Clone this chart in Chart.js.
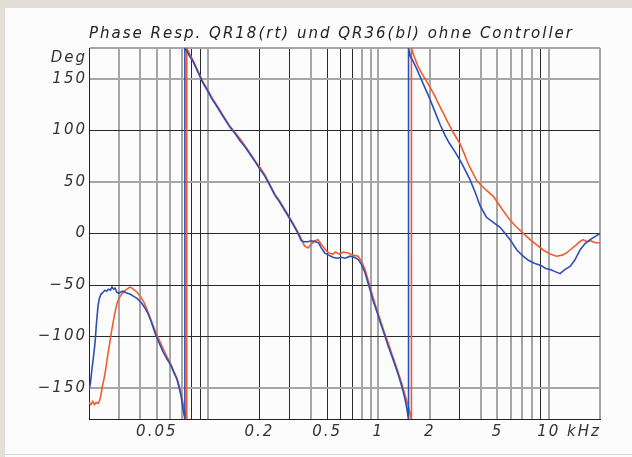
<!DOCTYPE html>
<html>
<head>
<meta charset="utf-8">
<script src="https://cdn.jsdelivr.net/npm/chart.js@4.4.1/dist/chart.umd.min.js"></script>
<style>
    body { margin: 0; background: #e2dfd6; }
    #panel {
        position: absolute; left: 5px; top: 8px; width: 627px; height: 449px;
        background: #fcfcfc;
    }
    #rule { position: absolute; left: 5px; top: 454px; width: 627px; height: 1px; background: #d4d4d4; }
    #phaseChart { position: absolute; left: 0; top: 0; }
</style>
</head>
<body>
<div id="panel"></div>
<div id="rule"></div>
<canvas id="phaseChart" width="632" height="457"></canvas>
<script>
// QR36 (blue) phase, Hz / degrees
const freqBlue = [20, 20.4, 20.8, 21.2, 21.7, 22.1, 22.6, 23.0, 23.5, 24.2, 24.8, 25.4, 26.0, 26.7, 27.3, 27.9, 28.5, 29.1, 29.8, 30.6,
    31.6, 32.6, 33.6, 35.0, 36.6, 38.3, 40.5, 42.5, 44.5, 46.5, 48.9, 51.5, 54.5, 57.5, 60.5, 63.0, 65.5, 67.5, 69.5, 71.0,
    72.3, 73.0, 73.2, 75, 78, 81.6, 87, 93.4, 99, 106, 113, 122, 134.6, 144, 154, 165, 178, 190, 202, 215,
    230, 247, 262, 278, 295, 315, 335, 352, 365, 385, 405, 428, 445, 462, 485, 510, 540, 572, 605, 640,
    680, 720, 760, 795, 835, 880, 930, 980, 1030, 1080, 1140, 1200, 1260, 1320, 1380, 1430, 1470, 1500, 1503, 1540,
    1600, 1687, 1780, 1880, 2011, 2150, 2300, 2450, 2600, 2800, 3017, 3200, 3454, 3700, 3950, 4300, 4700, 5183, 5550, 5932,
    6500, 7071, 7600, 8300, 9000, 9600, 10200, 10900, 11660, 12400, 13350, 14200, 15280, 16300, 17500, 18700, 20000];
const phaseBlue = [-152, -145, -132, -121, -106, -88, -70, -63, -59, -57, -55, -56, -54, -55, -52, -54, -53, -57, -58, -57,
    -56, -57, -58, -59, -61, -63, -67, -72, -78, -86, -97, -106, -115, -122, -128, -135, -141, -149, -158, -168,
    -176, -180, 180, 177, 172, 167, 157, 146, 139, 130, 123, 114, 103, 97, 90, 84, 76, 69, 62, 56,
    47, 37, 31, 24, 17, 9, 1, -7, -8, -8, -7, -8, -9, -14, -19, -21, -23, -24, -23, -24,
    -22, -23, -25, -30, -38, -51, -65, -76, -87, -97, -109, -119, -129, -139, -150, -160, -170, -180, 180, 172,
    167, 159, 150, 141, 130, 118, 106, 96, 88, 80, 71, 63, 52, 40, 27, 16, 11, 6, 0, -6,
    -16, -22, -26, -29, -31, -34, -35, -37, -39, -35, -32, -26, -16, -10, -6, -3, 0];

// QR18 (red) phase, Hz / degrees
const freqRed = [20, 20.5, 21.0, 21.5, 22.0, 22.6, 23.1, 23.5, 23.9, 24.5, 25.0, 25.5, 26.0, 26.5, 27.0, 27.6, 28.3, 29.2, 30.2, 31.4,
    32.8, 34.0, 34.8, 35.8, 37.0, 38.3, 40.0, 41.8, 43.9, 46.0, 48.5, 51.5, 54.5, 57.5, 60.5, 63.0, 65.5, 67.5, 69.5, 71.5,
    73.5, 74.8, 75.0, 78, 81.6, 87, 93.4, 99, 106, 113, 122, 134.6, 144, 154, 165, 178, 190, 202, 215, 230,
    247, 262, 278, 295, 315, 335, 352, 368, 386, 405, 425, 442, 460, 485, 510, 540, 560, 590, 620, 664,
    710, 760, 795, 835, 880, 930, 980, 1030, 1080, 1140, 1200, 1260, 1320, 1380, 1440, 1500, 1540, 1560, 1563, 1620,
    1700, 1760, 1880, 2011, 2150, 2250, 2400, 2520, 2750, 3017, 3200, 3400, 3600, 3760, 4000, 4300, 4730, 5300, 5930, 6400,
    6900, 7770, 8500, 9270, 10200, 11100, 12000, 12700, 13350, 14500, 15200, 15900, 16800, 17500, 18800, 20000];
const phaseRed = [-164, -166, -163, -166, -164, -165, -162, -157, -149, -141, -133, -123, -114, -106, -97, -88, -78, -68, -62, -58,
    -55, -53, -52, -53, -55, -57, -61, -66, -74, -83, -93, -103, -112, -120, -127, -134, -140, -147, -156, -166,
    -175, -180, 180, 174, 168, 158, 147, 140, 131, 124, 115, 104, 98, 92, 85, 77, 70, 64, 57, 48,
    38, 32, 25, 18, 10, 2, -5, -12, -14, -10, -7, -6, -10, -15, -19, -20, -18, -20, -18, -19,
    -21, -22, -27, -35, -48, -62, -74, -85, -95, -106, -117, -127, -137, -147, -158, -168, -176, -180, 180, 172,
    163, 158, 150, 142, 133, 126, 117, 110, 98, 87, 77, 66, 58, 52, 47, 42, 36, 24, 13, 7,
    2, -6, -11, -16, -20, -22, -21, -19, -16, -11, -8, -6, -8, -7, -9, -9];

// Axis ticks and labels
const gridFreqs = [20, 30, 40, 50, 60, 70, 80, 90, 100, 200, 300, 400, 500, 600, 700, 800, 900,
    1000, 2000, 3000, 4000, 5000, 6000, 7000, 8000, 9000, 10000, 20000];
const labelFreqs = [50, 200, 500, 1000, 2000, 5000, 10000];
const labelTexts = ['0.05', '0.2', '0.5', '1', '2', '5', '10 kHz'];
const degTicks = [-180, -150, -100, -50, 0, 50, 100, 150, 170, 180];
const degLabels = ['', '\u2212150', '\u2212100', '\u221250', '0', '50', '100', '150', 'Deg', ''];

const toPoints = (xs, ys) => xs.map((x, i) => ({ x: x, y: ys[i] }));

// the scanned grid has crisp dark lines and soft grey ones
const darkX = [80, 90, 200, 300, 500, 600, 700, 3000, 9000];
const darkY = [100, 0, -50, -100];

const spacing = {
    id: 'spacing',
    beforeLayout(chart) { chart.ctx.letterSpacing = '2px'; },
    beforeDraw(chart) { chart.ctx.letterSpacing = '2px'; }
};

const font = { family: 'DejaVu Sans', style: 'italic', size: 15 };

const ctx = document.getElementById('phaseChart').getContext('2d');
const phaseChart = new Chart(ctx, {
    type: 'line',
    data: {
        datasets: [{
            label: 'QR36',
            data: toPoints(freqBlue, phaseBlue),
            borderColor: '#2c4fb6',
            borderWidth: 1.6,
            pointRadius: 0,
            tension: 0
        }, {
            label: 'QR18',
            data: toPoints(freqRed, phaseRed),
            borderColor: '#f05c30',
            borderWidth: 1.6,
            pointRadius: 0,
            tension: 0
        }]
    },
    options: {
        responsive: false,
        animation: false,
        layout: { padding: { left: 0, right: 32, top: 0, bottom: 0 } },
        scales: {
            x: {
                type: 'logarithmic',
                min: 20,
                max: 20000,
                afterBuildTicks: (scale) => { scale.ticks = gridFreqs.map(v => ({ value: v })); },
                afterFit: (scale) => { scale.height = 38; },
                border: { color: '#222', width: 1 },
                grid: {
                    drawTicks: false,
                    color: (c) => c.tick.value === 20 ? 'rgba(0,0,0,0)' : darkX.includes(c.tick.value) ? '#2a2a2a' : '#a6a6a6',
                    lineWidth: (c) => darkX.includes(c.tick.value) ? 1 : 2
                },
                ticks: {
                    autoSkip: false,
                    maxRotation: 0,
                    padding: 4,
                    color: '#333',
                    font: font,
                    callback: (value) => {
                        const i = labelFreqs.indexOf(value);
                        if (i < 0) return '';
                        // keep the "10" of "10 kHz" on its grid line
                        return i === labelFreqs.length - 1 ? '      ' + labelTexts[i] : labelTexts[i];
                    }
                }
            },
            y: {
                min: -180,
                max: 180,
                afterBuildTicks: (scale) => { scale.ticks = degTicks.map(v => ({ value: v })); },
                afterFit: (scale) => { scale.width = 89; },
                border: { color: '#222', width: 1 },
                grid: {
                    drawTicks: false,
                    color: (c) => {
                        const v = c.tick.value;
                        if (v === 170 || v === -180) return 'rgba(0,0,0,0)';
                        return darkY.includes(v) ? '#2a2a2a' : '#a6a6a6';
                    },
                    lineWidth: (c) => darkY.includes(c.tick.value) ? 1 : 2
                },
                ticks: {
                    autoSkip: false,
                    padding: 2,
                    color: '#333',
                    font: font,
                    callback: (value) => degLabels[degTicks.indexOf(value)]
                }
            }
        },
        plugins: {
            legend: { display: false },
            tooltip: { enabled: false },
            title: {
                display: true,
                text: 'Phase Resp. QR18(rt) und QR36(bl) ohne Controller',
                align: 'start',
                fullSize: false,
                color: '#222',
                font: { family: 'DejaVu Sans', style: 'italic', size: 15, weight: 'normal', lineHeight: 1.2 },
                padding: { top: 25, bottom: 5 }
            }
        }
    },
    plugins: [spacing]
});
</script>
</body>
</html>
